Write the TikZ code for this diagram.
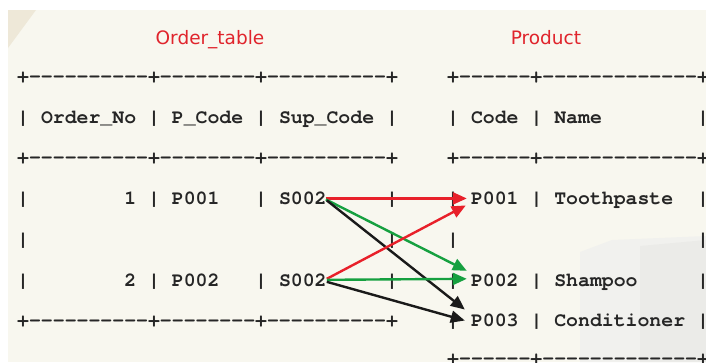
\documentclass[tikz,border=0pt]{standalone}
\usepackage{fontspec}
\newfontfamily\titlefont{DejaVu Sans}
\newfontfamily\tabfont{texgyrecursor-bold.otf}
\usetikzlibrary{arrows.meta,calc}

\definecolor{paper}{HTML}{F8F7EF}
\definecolor{fold}{HTML}{EEE8D8}
\definecolor{bldA}{HTML}{F1F1EE}
\definecolor{bldB}{HTML}{EBEBE8}
\definecolor{ink}{HTML}{262626}
\definecolor{titlered}{HTML}{E0242C}
\definecolor{linkred}{HTML}{E8202A}
\definecolor{linkgreen}{HTML}{16A040}
\definecolor{linkblack}{HTML}{1A1A1A}

% run of n hyphens, kept apart so no dash ligature forms
\newcommand\dashrun[1]{\ifnum#1>0 -\kern0pt\expandafter\dashrun\expandafter{\the\numexpr#1-1\relax}\fi}

% character cell width, table origins and row baselines
\def\cw{11.9}
\def\Lx{17}
\def\Px{447}
\def\rA{82.5}\def\rB{123.2}\def\rC{163.9}\def\rD{204.6}
\def\rE{245.3}\def\rF{286}\def\rG{326.7}\def\rH{364.5}

% one monospace cell: name, origin, column, baseline, text
\newcommand\cell[5]{\node[mono] (#1) at ({#2+#3*\cw},#4) {#5};}

\begin{document}
\begin{tikzpicture}[x=1pt,y=-1pt,
  mono/.style={font=\tabfont\fontsize{19.83}{22}\selectfont,
    inner sep=0pt, anchor=base west, text=ink},
  title/.style={font=\titlefont\fontsize{18.5}{20}\selectfont,
    text=titlered, inner sep=0pt, anchor=base},
  link/.style={line width=2.4pt, -{Triangle[length=14pt,width=12pt]}}]

\useasboundingbox (0,0) rectangle (706,362);
\fill[white] (0,0) rectangle (706,362);
\fill[paper] (8,10) rectangle (706,362);
\fill[fold] (8,10) -- (36,10) -- (8,48) -- cycle;
% faint building in the backdrop
\fill[bldA] (580,252) -- (612,240) -- (706,236) -- (706,362) -- (580,362) -- cycle;
\fill[bldB] (640,246) -- (706,240) -- (706,362) -- (640,362) -- cycle;

% titles
\node[title] (ttl) at (210,44.5) {Order\_table};
\node[title] (ptl) at (546,44.5) {Product};

% Order_table
\cell{ld0}{\Lx}{0}{\rA}{+\dashrun{10}+\dashrun{8}+\dashrun{10}+}
\cell{lh0}{\Lx}{0}{\rB}{|}
\cell{lh1}{\Lx}{2}{\rB}{Order\_No}
\cell{lh2}{\Lx}{11}{\rB}{|}
\cell{lh3}{\Lx}{13}{\rB}{P\_Code}
\cell{lh4}{\Lx}{20}{\rB}{|}
\cell{lh5}{\Lx}{22}{\rB}{Sup\_Code}
\cell{lh6}{\Lx}{31}{\rB}{|}
\cell{ld1}{\Lx}{0}{\rC}{+\dashrun{10}+\dashrun{8}+\dashrun{10}+}
\cell{la0}{\Lx}{0}{\rD}{|}
\cell{la1}{\Lx}{9}{\rD}{1}
\cell{la2}{\Lx}{11}{\rD}{|}
\cell{la3}{\Lx}{13}{\rD}{P001}
\cell{la4}{\Lx}{20}{\rD}{|}
\cell{s1}{\Lx}{22}{\rD}{S002}
\cell{la6}{\Lx}{31}{\rD}{|}
\cell{lb0}{\Lx}{0}{\rE}{|}
\cell{lb6}{\Lx}{31}{\rE}{|}
\cell{lc0}{\Lx}{0}{\rF}{|}
\cell{lc1}{\Lx}{9}{\rF}{2}
\cell{lc2}{\Lx}{11}{\rF}{|}
\cell{lc3}{\Lx}{13}{\rF}{P002}
\cell{lc4}{\Lx}{20}{\rF}{|}
\cell{s2}{\Lx}{22}{\rF}{S002}
\cell{lc6}{\Lx}{31}{\rF}{|}
\cell{ld2}{\Lx}{0}{\rG}{+\dashrun{10}+\dashrun{8}+\dashrun{10}+}

% Product
\cell{pd0}{\Px}{0}{\rA}{+\dashrun{6}+\dashrun{13}+}
\cell{ph0}{\Px}{0}{\rB}{|}
\cell{ph1}{\Px}{2}{\rB}{Code}
\cell{ph2}{\Px}{7}{\rB}{|}
\cell{ph3}{\Px}{9}{\rB}{Name}
\cell{ph4}{\Px}{21}{\rB}{|}
\cell{pd1}{\Px}{0}{\rC}{+\dashrun{6}+\dashrun{13}+}
\cell{pa0}{\Px}{0}{\rD}{|}
\cell{p1}{\Px}{2}{\rD}{P001}
\cell{pa2}{\Px}{7}{\rD}{|}
\cell{pa3}{\Px}{9}{\rD}{Toothpaste}
\cell{pa4}{\Px}{21}{\rD}{|}
\cell{pb0}{\Px}{0}{\rE}{|}
\cell{pb4}{\Px}{21}{\rE}{|}
\cell{pc0}{\Px}{0}{\rF}{|}
\cell{p2}{\Px}{2}{\rF}{P002}
\cell{pc2}{\Px}{7}{\rF}{|}
\cell{pc3}{\Px}{9}{\rF}{Shampoo}
\cell{pc4}{\Px}{21}{\rF}{|}
\cell{pe0}{\Px}{0}{\rG}{|}
\cell{p3}{\Px}{2}{\rG}{P003}
\cell{pe2}{\Px}{7}{\rG}{|}
\cell{pe3}{\Px}{9}{\rG}{Conditioner}
\cell{pe4}{\Px}{21}{\rG}{|}
\cell{pd2}{\Px}{0}{\rH}{+\dashrun{6}+\dashrun{13}+}

% supplier-to-product links
\draw[link, linkred]   ($(s1.east)+(-1,0)$) -- ($(p1.west)+(-4,0)$);
\draw[link, linkgreen] ($(s1.east)+(-1,1)$) -- ($(p2.west)+(-4,-9)$);
\draw[link, linkblack] ($(s1.east)+(0,2)$)  -- ($(p3.west)+(-6,-11)$);
\draw[link, linkred]   ($(s2.east)+(0,-1)$) -- ($(p1.west)+(-5,7)$);
\draw[link, linkgreen] ($(s2.east)+(0,0)$)  -- ($(p2.west)+(-4,-1)$);
\draw[link, linkblack] ($(s2.east)+(0,2)$)  -- ($(p3.west)+(-6,0)$);
\end{tikzpicture}
\end{document}
